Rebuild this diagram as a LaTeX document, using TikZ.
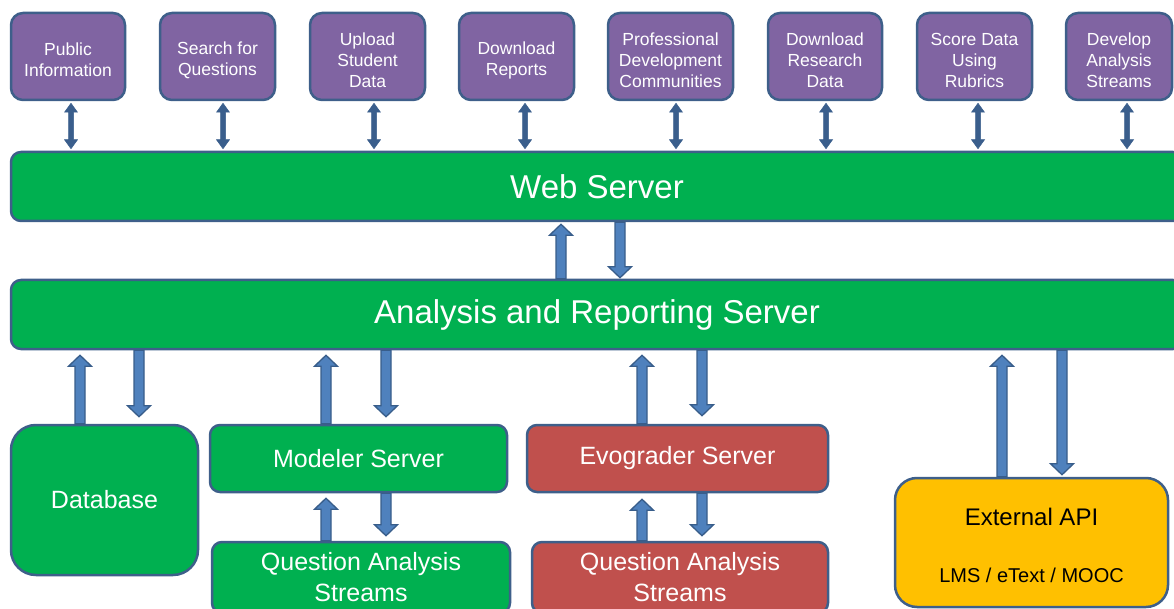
\documentclass[tikz,border=0pt]{standalone}
\usepackage{fontspec}
\setmainfont{Liberation Sans}
\usetikzlibrary{calc}
\definecolor{purp}{HTML}{8064A2}
\definecolor{grn}{HTML}{00B050}
\definecolor{redb}{HTML}{C0504D}
\definecolor{yel}{HTML}{FFC000}
\definecolor{edge}{HTML}{3E5F8A}
\definecolor{arrfill}{HTML}{4F81BD}
\definecolor{arredge}{HTML}{385D8A}
\definecolor{toparr}{HTML}{3A5E8C}
\tikzset{
 box/.style={draw=edge, line width=2.5pt, rounded corners=12pt, align=center, text=white, inner sep=2pt},
 topbox/.style={box, fill=purp, minimum height=87pt},
 tt/.style={text=white, align=center, font=\fontsize{17.5}{21}\selectfont, yshift=-3.5pt},
 bar/.style={box, fill=grn, minimum height=69pt, minimum width=1172pt, rounded corners=10pt, font=\fontsize{33}{38}\selectfont},
 gbox/.style={box, fill=grn, rounded corners=10pt, font=\fontsize{25}{31}\selectfont},
 rbox/.style={box, fill=redb, rounded corners=10pt, font=\fontsize{25}{31}\selectfont},
 barrow/.style={fill=arrfill, draw=arredge, line width=1.3pt, line join=miter},
 tarrow/.style={fill=toparr, draw=toparr, line width=0.5pt, line join=miter},
}
\newcommand\blockarrow[5]{% x, from, to, dir (1 up, -1 down), gap
 \coordinate (ba-s) at (#1,0 |- #2);
 \coordinate (ba-t) at ($(#1,0 |- #3)+(0,#4*#5)$);
 \path[barrow] ($(ba-s)+(-5,0)$) -- ($(ba-t)+(-5,#4*11)$) -- ($(ba-t)+(-11.5,#4*11)$) -- (ba-t)
   -- ($(ba-t)+(11.5,#4*11)$) -- ($(ba-t)+(5,#4*11)$) -- ($(ba-s)+(5,0)$) -- cycle;}
\newcommand\dblarrow[3]{% x, upper anchor, lower anchor
 \coordinate (da-a) at ($(#1,0 |- #2)+(0,2)$);
 \coordinate (da-b) at ($(#1,0 |- #3)+(0,-2)$);
 \path[tarrow] (da-a) -- ($(da-a)+(6.5,9)$) -- ($(da-a)+(2.5,9)$) -- ($(da-b)+(2.5,-9)$)
   -- ($(da-b)+(6.5,-9)$) -- (da-b) -- ($(da-b)+(-6.5,-9)$) -- ($(da-b)+(-2.5,-9)$)
   -- ($(da-a)+(-2.5,9)$) -- ($(da-a)+(-6.5,9)$) -- cycle;}
\begin{document}
\begin{tikzpicture}[x=1pt,y=-1pt]
\useasboundingbox (0,0) rectangle (1174,609);
\clip (0,0) rectangle (1174,609);
% top boxes
\node[topbox, minimum width=114pt, label={[tt]center:Public\\Information}] (pub) at (68,56.5) {};
\node[topbox, minimum width=115pt, label={[tt]center:Search for\\Questions}] (srch) at (217.5,56.5) {};
\node[topbox, minimum width=115pt, label={[tt]center:Upload\\Student\\Data}] (upl) at (367.5,56.5) {};
\node[topbox, minimum width=115pt, label={[tt]center:Download\\Reports}] (dlr) at (516.5,56.5) {};
\node[topbox, minimum width=125pt, label={[tt]center:Professional\\Development\\Communities}] (pdc) at (670.5,56.5) {};
\node[topbox, minimum width=114pt, label={[tt]center:Download\\Research\\Data}] (drd) at (825,56.5) {};
\node[topbox, minimum width=115pt, label={[tt]center:Score Data\\Using\\Rubrics}] (sdr) at (974.5,56.5) {};
\node[topbox, minimum width=106pt, label={[tt]center:Develop\\Analysis\\Streams}] (das) at (1119,56.5) {};
% bars
\node[bar] (web) at (597,186.5) {Web Server};
\node[bar] (ars) at (597,314.5) {Analysis and Reporting Server};
% bottom row
\node[gbox, rounded corners=25pt, minimum width=187pt, minimum height=150pt] (db) at (104.5,500) {Database};
\node[gbox, minimum width=297pt, minimum height=67pt] (mod) at (358.5,458.5) {Modeler Server};
\node[gbox, minimum width=298pt, minimum height=71pt] (qas1) at (361,577.5) {Question Analysis\\Streams};
\node[rbox, minimum width=301pt, minimum height=67pt] (evo) at (677.5,458.5) {Evograder Server};
\node[rbox, minimum width=296pt, minimum height=71pt] (qas2) at (680,577.5) {Question Analysis\\Streams};
\node[box, fill=yel, rounded corners=22pt, minimum width=273pt, minimum height=129pt] (ext) at (1031.5,542.5) {};
\node[text=black, font=\fontsize{24}{29}\selectfont] (extt) at ($(ext.center)+(0,-25.5)$) {External API};
\node[text=black, font=\fontsize{20}{24}\selectfont] (exts) at ($(ext.center)+(0,32.5)$) {LMS / eText / MOOC};
% top double arrows
\dblarrow{71}{pub.south}{web.north}
\dblarrow{223}{srch.south}{web.north}
\dblarrow{374}{upl.south}{web.north}
\dblarrow{525}{dlr.south}{web.north}
\dblarrow{676}{pdc.south}{web.north}
\dblarrow{826}{drd.south}{web.north}
\dblarrow{978}{sdr.south}{web.north}
\dblarrow{1127}{das.south}{web.north}
% web <-> ars
\blockarrow{561}{ars.north}{web.south}{1}{2}
\blockarrow{620}{web.south}{ars.north}{-1}{1}
% ars <-> bottom
\blockarrow{80}{db.north}{ars.south}{1}{5}
\blockarrow{139}{ars.south}{db.north}{-1}{7}
\blockarrow{326}{mod.north}{ars.south}{1}{5}
\blockarrow{386}{ars.south}{mod.north}{-1}{7}
\blockarrow{642}{evo.north}{ars.south}{1}{5}
\blockarrow{702}{ars.south}{evo.north}{-1}{8}
\blockarrow{1002}{ext.north}{ars.south}{1}{5}
\blockarrow{1062}{ars.south}{ext.north}{-1}{2}
% servers <-> streams
\blockarrow{326}{qas1.north}{mod.south}{1}{5}
\blockarrow{386}{mod.south}{qas1.north}{-1}{5}
\blockarrow{642}{qas2.north}{evo.south}{1}{6}
\blockarrow{702}{evo.south}{qas2.north}{-1}{5}
\end{tikzpicture}
\end{document}
